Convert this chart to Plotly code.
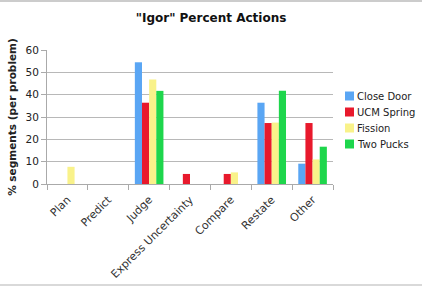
import plotly.graph_objects as go

categories = ["Plan", "Predict", "Judge", "Express Uncertainty", "Compare", "Restate", "Other"]
close_door = [0, 0, 54.5, 0, 0, 36.4, 9.1]
ucm_spring = [0, 0, 36.4, 4.5, 4.5, 27.3, 27.3]
fission = [7.7, 0, 46.8, 0, 5.2, 27.5, 11.0]
two_pucks = [0, 0, 41.7, 0, 0, 41.7, 16.7]

series = [
    ("Close Door", close_door, "#5aa6f4"),
    ("UCM Spring", ucm_spring, "#e8192c"),
    ("Fission", fission, "#f9f28a"),
    ("Two Pucks", two_pucks, "#1ed64c"),
]

W, H = 422, 286
L, R, T, B = 47, 89, 50, 102
pw, ph = W - L - R, H - T - B

def px_x(x):
    return (x - L) / pw

def px_y(y):
    return (H - B - y) / ph

fig = go.Figure()
for name, vals, col in series:
    fig.add_trace(go.Bar(x=categories, y=vals, name=name, showlegend=False,
                         marker=dict(color=col, line=dict(width=0))))

font_fam = "DejaVu Sans, Verdana, sans-serif"

shapes = [
    dict(type="line", xref="paper", yref="paper", x0=px_x(0), x1=px_x(W), y0=px_y(1), y1=px_y(1),
         line=dict(color="#bbb", width=1.5)),
    dict(type="line", xref="paper", yref="paper", x0=px_x(0), x1=px_x(W), y0=px_y(285), y1=px_y(285),
         line=dict(color="#ccc", width=1.5)),
]
annotations = []
for i, (name, vals, col) in enumerate(series):
    cy = 96 + 16 * i
    shapes.append(dict(type="rect", xref="paper", yref="paper",
                       x0=px_x(345), x1=px_x(354), y0=px_y(cy + 4.5), y1=px_y(cy - 4.5),
                       fillcolor=col, line=dict(width=0)))
    annotations.append(dict(text=name, xref="paper", yref="paper", x=px_x(355), y=px_y(cy),
                            xanchor="left", yanchor="middle", showarrow=False,
                            font=dict(family=font_fam, size=10, color="#222")))

fig.update_layout(
    width=W, height=H,
    margin=dict(l=L, r=R, t=T, b=B, autoexpand=False),
    paper_bgcolor="white", plot_bgcolor="white",
    barmode="group", bargap=0.3, bargroupgap=0,
    title=dict(text="<b>\"Igor\" Percent Actions</b>", x=0.5, xanchor="center", y=1 - 18 / H, yanchor="middle",
               font=dict(family=font_fam, size=12, color="#111")),
    font=dict(family=font_fam, size=10, color="#222"),
    showlegend=False,
    xaxis=dict(tickangle=-45, showgrid=False, showline=True, linecolor="#aaa",
               ticks="outside", tickson="boundaries", tickcolor="#aaa", ticklen=5,
               ticklabelstandoff=4,
               tickfont=dict(size=11, color="#333")),
    yaxis=dict(range=[0, 60], dtick=10, showgrid=True, gridcolor="#b8b8b8", showline=True,
               linecolor="#aaa", ticks="outside", tickcolor="#aaa", ticklen=5,
               tickfont=dict(size=10.5, color="#222"),
               title=dict(text="<b>% segments (per problem)</b>", font=dict(size=10.5), standoff=6),
               zeroline=False),
    shapes=shapes,
    annotations=annotations,
)

fig.write_html("out.html")
